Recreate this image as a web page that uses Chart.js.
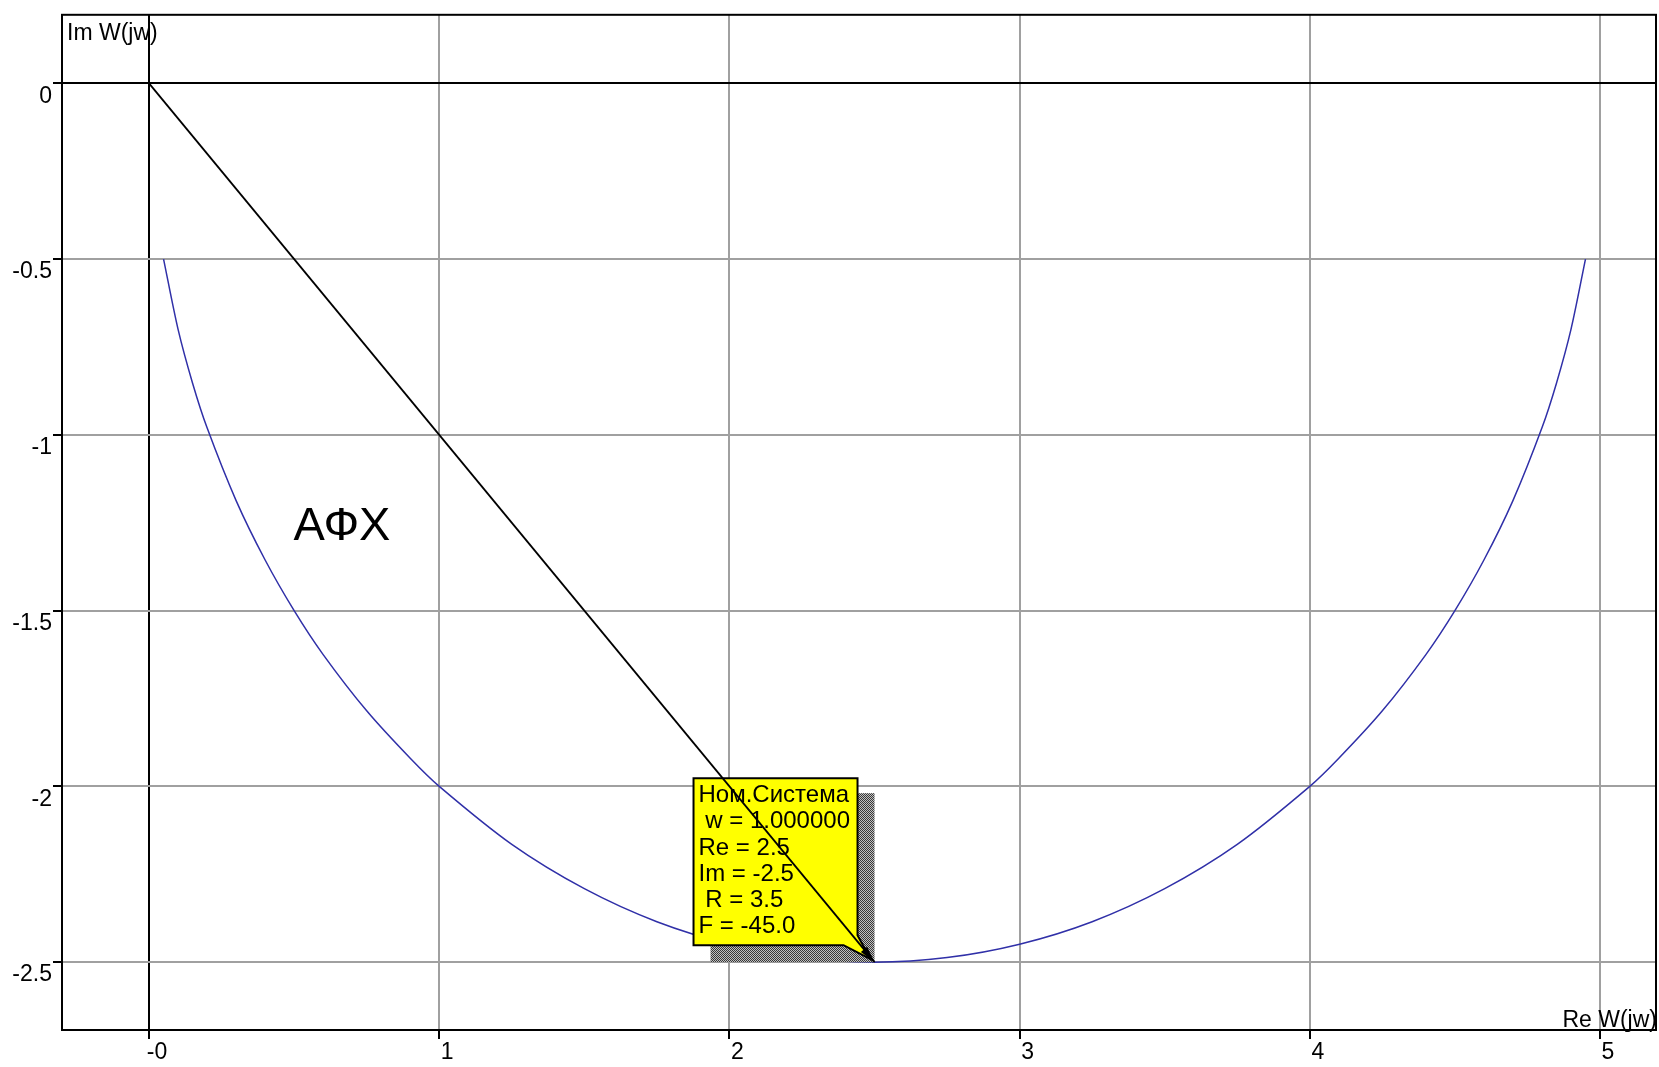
<!DOCTYPE html>
<html>
<head>
<meta charset="utf-8">
<title>АФХ</title>
<script src="https://cdn.jsdelivr.net/npm/chart.js@4.4.1/dist/chart.umd.min.js"></script>
<style>
    html, body { margin: 0; padding: 0; background: #ffffff; }
    #afc { display: block; }
</style>
</head>
<body>
<canvas id="afc" width="1659" height="1067"></canvas>
<script>
// Nyquist plot (АФХ) of the nominal system, with a marker at w = 1

// #region Data
const curveRe = [0.05, 0.1, 0.15, 0.2, 0.3, 0.4, 0.5, 0.6, 0.75, 0.9, 1.0, 1.25, 1.5, 1.75, 2.0, 2.25, 2.5,
                 2.75, 3.0, 3.25, 3.5, 3.75, 4.0, 4.1, 4.25, 4.4, 4.5, 4.6, 4.7, 4.8, 4.85, 4.9, 4.95];
const curveIm = [-0.5, -0.7, -0.853, -0.98, -1.187, -1.356, -1.5, -1.625, -1.785, -1.92, -2.0, -2.165, -2.291, -2.385, -2.449, -2.487, -2.5,
                 -2.487, -2.449, -2.385, -2.291, -2.165, -2.0, -1.92, -1.785, -1.625, -1.5, -1.356, -1.187, -0.98, -0.853, -0.7, -0.5];

// radius vector from the origin to the marked point
const arrowRe = [0, 2.5];
const arrowIm = [0, -2.5];

const xTicks = [0, 1, 2, 3, 4, 5];
const xTickLabels = ['-0', '1', '2', '3', '4', '5'];
const yTicks = [0, -0.5, -1, -1.5, -2, -2.5];
const yTickLabels = ['0', '-0.5', '-1', '-1.5', '-2', '-2.5'];

const noteLines = ['Ном.Система', ' w = 1.000000', 'Re = 2.5', 'Im = -2.5', ' R = 3.5', 'F = -45.0'];
const curveLabel = 'АФХ';
const curveLabelAt = [0.665, -1.263];
const yTitle = 'Im W(jw)';
const xTitle = 'Re W(jw)';
// #endregion Data

const gridGray = '#a0a0a0';
const fontFamily = '"Liberation Sans", Arial, sans-serif';
const textFont = '23px ' + fontFamily;

function toPoints(xs, ys) {
    return xs.map((x, i) => ({x: x, y: ys[i]}));
}

// checkered shadow like the old windows hint boxes
function makeStipple(ctx) {
    const c = document.createElement('canvas');
    c.width = 2;
    c.height = 2;
    const g = c.getContext('2d');
    g.fillStyle = '#c0c0c0';
    g.fillRect(0, 0, 2, 2);
    g.fillStyle = '#383838';
    g.fillRect(0, 0, 1, 1);
    g.fillRect(1, 1, 1, 1);
    return ctx.createPattern(c, 'repeat');
}

// hint box with a small tail pointing at the marked point
function notePath(ctx, left, top, right, bottom, tx, ty) {
    ctx.beginPath();
    ctx.moveTo(left, top);
    ctx.lineTo(right, top);
    ctx.lineTo(right, bottom - 10);
    ctx.lineTo(tx, ty);
    ctx.lineTo(right - 14, bottom);
    ctx.lineTo(left, bottom);
    ctx.closePath();
}

function drawNote(ctx, tipX, tipY) {
    const left = tipX - 181, top = tipY - 184, right = tipX - 17, bottom = tipY - 17;
    const tx = tipX - 4, ty = tipY - 3;
    ctx.save();
    ctx.fillStyle = makeStipple(ctx);
    ctx.fillRect(left + 17, top + 15, right - left, bottom - top + 2);
    ctx.beginPath();
    ctx.moveTo(right, bottom - 12);
    ctx.lineTo(tx + 4, ty + 3);
    ctx.lineTo(right, ty + 3);
    ctx.closePath();
    ctx.fill();
    ctx.fillStyle = '#ffff00';
    notePath(ctx, left, top, right, bottom, tx, ty);
    ctx.fill();
    ctx.strokeStyle = '#000000';
    ctx.lineWidth = 2;
    ctx.stroke();
    ctx.fillStyle = '#000000';
    ctx.font = '24px ' + fontFamily;
    ctx.textAlign = 'left';
    ctx.textBaseline = 'alphabetic';
    noteLines.forEach((line, i) => {
        ctx.fillText(line, left + 5, top + 24 + i * 26.2);
    });
    ctx.restore();
}

const overlayPlugin = {
    id: 'overlay',
    beforeDraw(chart) {
        const ctx = chart.ctx;
        ctx.save();
        ctx.fillStyle = '#ffffff';
        ctx.fillRect(0, 0, chart.width, chart.height);
        ctx.restore();
    },
    beforeDatasetDraw(chart, args) {
        if (args.index !== 1) return;
        const tip = args.meta.data[1];
        drawNote(chart.ctx, tip.x, tip.y);
    },
    afterDatasetsDraw(chart) {
        const ctx = chart.ctx;
        const pts = chart.getDatasetMeta(1).data;
        const x0 = pts[0].x, y0 = pts[0].y, x1 = pts[1].x, y1 = pts[1].y;
        const ang = Math.atan2(y1 - y0, x1 - x0);
        const len = 17, half = 0.24;
        ctx.save();
        ctx.fillStyle = '#000000';
        ctx.beginPath();
        ctx.moveTo(x1, y1);
        ctx.lineTo(x1 - len * Math.cos(ang - half), y1 - len * Math.sin(ang - half));
        ctx.lineTo(x1 - len * Math.cos(ang + half), y1 - len * Math.sin(ang + half));
        ctx.closePath();
        ctx.fill();
        ctx.restore();
    },
    afterDraw(chart) {
        const ctx = chart.ctx;
        const area = chart.chartArea;
        const xs = chart.scales.x, ys = chart.scales.y;
        ctx.save();
        ctx.strokeStyle = '#000000';
        ctx.lineWidth = 2;
        ctx.strokeRect(area.left, area.top, area.right - area.left, area.bottom - area.top);

        ctx.fillStyle = '#000000';
        ctx.font = textFont;
        ctx.textBaseline = 'alphabetic';
        ctx.textAlign = 'left';
        ctx.fillText(yTitle, area.left + 5, area.top + 25);
        ctx.textAlign = 'right';
        ctx.fillText(xTitle, area.right + 1, area.bottom - 3);

        ctx.font = '47px ' + fontFamily;
        ctx.textAlign = 'center';
        ctx.textBaseline = 'middle';
        ctx.fillText(curveLabel, xs.getPixelForValue(curveLabelAt[0]), ys.getPixelForValue(curveLabelAt[1]));
        ctx.restore();
    }
};

const ctx = document.getElementById('afc').getContext('2d');

const config = {
    type: 'scatter',
    data: {
        datasets: [{
            label: 'АФХ',
            data: toPoints(curveRe, curveIm),
            showLine: true,
            borderColor: '#3030a8',
            borderWidth: 1.5,
            pointRadius: 0,
            tension: 0.3,
            fill: false,
            order: 2
        }, {
            label: 'R',
            data: toPoints(arrowRe, arrowIm),
            showLine: true,
            borderColor: '#000000',
            borderWidth: 1.8,
            pointRadius: 0,
            tension: 0,
            fill: false,
            order: 1
        }]
    },
    options: {
        responsive: false,
        animation: false,
        events: [],
        layout: {
            padding: {top: 10, right: 3, left: 0, bottom: 0}
        },
        plugins: {
            legend: {display: false},
            title: {display: false},
            tooltip: {enabled: false}
        },
        scales: {
            x: {
                type: 'linear',
                min: -0.3,
                max: 5.193,
                afterBuildTicks: scale => { scale.ticks = xTicks.map(v => ({value: v})); },
                afterFit: scale => { scale.height = 37; },
                border: {display: false},
                grid: {
                    color: c => (c.tick && c.tick.value === 0 ? '#000000' : gridGray),
                    tickColor: '#000000',
                    lineWidth: 2,
                    tickLength: 9
                },
                ticks: {
                    color: '#000000',
                    font: {family: fontFamily, size: 23},
                    padding: 0,
                    maxRotation: 0,
                    labelOffset: 8,
                    callback: (value, index) => xTickLabels[index]
                }
            },
            y: {
                type: 'linear',
                min: -2.693,
                max: 0.195,
                afterBuildTicks: scale => { scale.ticks = yTicks.map(v => ({value: v})); },
                afterFit: scale => { scale.width = 62; },
                border: {display: false},
                grid: {
                    color: c => (c.tick && c.tick.value === 0 ? '#000000' : gridGray),
                    tickColor: '#000000',
                    lineWidth: 2,
                    tickLength: 9
                },
                ticks: {
                    color: '#000000',
                    font: {family: fontFamily, size: 23},
                    padding: 1,
                    labelOffset: 13,
                    callback: (value, index) => yTickLabels[index]
                }
            }
        }
    },
    plugins: [overlayPlugin]
};

const afcChart = new Chart(ctx, config);
</script>
</body>
</html>
